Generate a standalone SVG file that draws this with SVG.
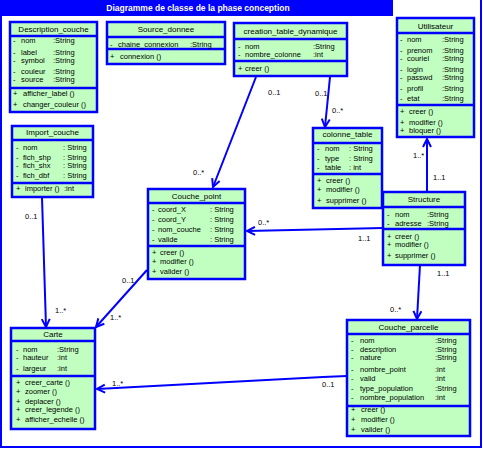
<svg xmlns="http://www.w3.org/2000/svg" width="483" height="449" viewBox="0 0 483 449">
<style>
text{font-family:"Liberation Sans",Arial,sans-serif;font-size:7.5px;fill:#000}
.box{fill:#c0ffc0;stroke:#0000ff;stroke-width:2.5}
.div{stroke:#0000ff;stroke-width:2.5}
.hd{text-anchor:middle;font-size:8px}
.lbl{font-size:7.5px}
.con{fill:none;stroke:#0000ff;stroke-width:2}
.title{fill:#fff;font-weight:bold;font-size:8.5px;text-anchor:middle}
</style>
<defs>
<marker id="arr" markerUnits="userSpaceOnUse" markerWidth="12" markerHeight="12" refX="9" refY="5" orient="auto">
<path d="M1,1 L9,5 L1,9" fill="none" stroke="#0000ff" stroke-width="2"/>
</marker>
</defs>
<rect width="483" height="449" fill="#fff"/>
<path d="M1,16 V447 H481 V0" fill="none" stroke="#0000ff" stroke-width="2"/>
<rect x="0" y="0" width="393" height="16" fill="#0000ff"/>
<text class="title" x="198" y="11">Diagramme de classe de la phase conception</text>

<g id="connectors">
<path class="con" d="M256,77 L213,187" marker-end="url(#arr)"/>
<path class="con" d="M330,77 L325,127" marker-end="url(#arr)"/>
<path class="con" d="M383,228 L247,231" marker-end="url(#arr)"/>
<path class="con" d="M427,192 L427,139" marker-end="url(#arr)"/>
<path class="con" d="M420,265 L417,319" marker-end="url(#arr)"/>
<path class="con" d="M347,376 L323,377 L97,389" marker-end="url(#arr)"/>
<path class="con" d="M42,197 L46,327" marker-end="url(#arr)"/>
<path class="con" d="M147,270 L96,327" marker-end="url(#arr)"/>
<text class="lbl" x="268" y="95">0..1</text>
<text class="lbl" x="193" y="175">0..*</text>
<text class="lbl" x="315" y="96">0..1</text>
<text class="lbl" x="332" y="113">0..*</text>
<text class="lbl" x="258" y="225">0..*</text>
<text class="lbl" x="358" y="241">1..1</text>
<text class="lbl" x="413" y="158">1..*</text>
<text class="lbl" x="433" y="180">1..1</text>
<text class="lbl" x="437" y="276">1..1</text>
<text class="lbl" x="390" y="312">0..*</text>
<text class="lbl" x="322" y="387">0..1</text>
<text class="lbl" x="112" y="386">1..*</text>
<text class="lbl" x="25" y="219">0..1</text>
<text class="lbl" x="55" y="313">1..*</text>
<text class="lbl" x="122" y="283">0..1</text>
<text class="lbl" x="110" y="320">1..*</text>
</g>

<g id="Description_couche">
<rect class="box" x="10" y="22" width="87" height="90"/>
<line class="div" x1="10" y1="36" x2="97" y2="36"/>
<line class="div" x1="10" y1="88" x2="97" y2="88"/>
<text class="hd" x="53.5" y="32">Description_couche</text>
<text x="13" y="43">-</text><text x="21" y="43">nom</text><text x="53" y="43">:String</text>
<text x="13" y="55">-</text><text x="21" y="55">label</text><text x="53" y="55">:String</text>
<text x="13" y="63">-</text><text x="21" y="63">symbol</text><text x="53" y="63">:String</text>
<text x="13" y="74">-</text><text x="21" y="74">couleur</text><text x="53" y="74">:String</text>
<text x="13" y="82">-</text><text x="21" y="82">source</text><text x="53" y="82">:String</text>
<text x="13" y="96">+</text><text x="23" y="96">afficher_label ()</text>
<text x="13" y="107">+</text><text x="23" y="107">changer_couleur ()</text>
</g>

<g id="Source_donnee">
<rect class="box" x="107" y="22" width="118" height="42"/>
<line class="div" x1="107" y1="37" x2="225" y2="37"/>
<line class="div" x1="107" y1="49" x2="225" y2="49"/>
<text class="hd" x="166" y="32">Source_donnee</text>
<text x="110" y="47">-</text><text x="118" y="47">chaine_connexion</text><text x="190" y="47">:String</text>
<text x="110" y="59">+</text><text x="120" y="59">connexion ()</text>
</g>

<g id="creation_table_dynamique">
<rect class="box" x="234" y="23" width="113" height="53"/>
<line class="div" x1="234" y1="39" x2="347" y2="39"/>
<line class="div" x1="234" y1="61" x2="347" y2="61"/>
<text class="hd" x="290.5" y="34">creation_table_dynamique</text>
<text x="238" y="49">-</text><text x="245" y="49">nom</text><text x="313" y="49">:String</text>
<text x="238" y="57">-</text><text x="245" y="57">nombre_colonne</text><text x="313" y="57">:int</text>
<text x="238" y="71">+</text><text x="245" y="71">creer ()</text>
</g>

<g id="Utilisateur">
<rect class="box" x="397" y="18" width="77" height="119"/>
<line class="div" x1="397" y1="33" x2="474" y2="33"/>
<line class="div" x1="397" y1="105" x2="474" y2="105"/>
<text class="hd" x="435.5" y="29">Utilisateur</text>
<text x="400" y="42">-</text><text x="407" y="42">nom</text><text x="442" y="42">:String</text>
<text x="400" y="53">-</text><text x="407" y="53">prenom</text><text x="442" y="53">:String</text>
<text x="400" y="61">-</text><text x="407" y="61">couriel</text><text x="442" y="61">:String</text>
<text x="400" y="72">-</text><text x="407" y="72">login</text><text x="442" y="72">:String</text>
<text x="400" y="80">-</text><text x="407" y="80">passwd</text><text x="442" y="80">:String</text>
<text x="400" y="91">-</text><text x="407" y="91">profil</text><text x="442" y="91">:String</text>
<text x="400" y="101">-</text><text x="407" y="101">etat</text><text x="442" y="101">:String</text>
<text x="400" y="114">+</text><text x="409" y="114">creer ()</text>
<text x="400" y="125">+</text><text x="409" y="125">modifier ()</text>
<text x="400" y="133">+</text><text x="409" y="133">bloquer ()</text>
</g>

<g id="Import_couche">
<rect class="box" x="12" y="126" width="81" height="71"/>
<line class="div" x1="12" y1="140" x2="93" y2="140"/>
<line class="div" x1="12" y1="183" x2="93" y2="183"/>
<text class="hd" x="52.5" y="135">Import_couche</text>
<text x="16" y="150">-</text><text x="23" y="150">nom</text><text x="63" y="150">: String</text>
<text x="16" y="160">-</text><text x="23" y="160">fich_shp</text><text x="63" y="160">: String</text>
<text x="16" y="168">-</text><text x="23" y="168">fich_shx</text><text x="63" y="168">: String</text>
<text x="16" y="178">-</text><text x="23" y="178">fich_dbf</text><text x="63" y="178">: String</text>
<text x="16" y="191">+</text><text x="25" y="191">importer ()</text><text x="64" y="191">:int</text>
</g>

<g id="Couche_point">
<rect class="box" x="148" y="189" width="97" height="90"/>
<line class="div" x1="148" y1="203" x2="245" y2="203"/>
<line class="div" x1="148" y1="246" x2="245" y2="246"/>
<text class="hd" x="196.5" y="199">Couche_point</text>
<text x="152" y="212">-</text><text x="158" y="212">coord_X</text><text x="210" y="212">: String</text>
<text x="152" y="222">-</text><text x="158" y="222">coord_Y</text><text x="210" y="222">: String</text>
<text x="152" y="232">-</text><text x="158" y="232">nom_couche</text><text x="210" y="232">: String</text>
<text x="152" y="242">-</text><text x="158" y="242">valide</text><text x="210" y="242">: String</text>
<text x="152" y="255">+</text><text x="160" y="255">creer ()</text>
<text x="152" y="264">+</text><text x="160" y="264">modifier ()</text>
<text x="152" y="274">+</text><text x="160" y="274">valider ()</text>
</g>

<g id="colonne_table">
<rect class="box" x="313" y="128" width="69" height="80"/>
<line class="div" x1="313" y1="143" x2="382" y2="143"/>
<line class="div" x1="313" y1="174" x2="382" y2="174"/>
<text class="hd" x="347.5" y="137">colonne_table</text>
<text x="317" y="151">-</text><text x="325" y="151">nom</text><text x="349" y="151">: String</text>
<text x="317" y="161">-</text><text x="325" y="161">type</text><text x="349" y="161">: String</text>
<text x="317" y="170">-</text><text x="325" y="170">table</text><text x="349" y="170">: int</text>
<text x="317" y="183">+</text><text x="326" y="183">creer ()</text>
<text x="317" y="192">+</text><text x="326" y="192">modifier ()</text>
<text x="317" y="203">+</text><text x="326" y="203">supprimer ()</text>
</g>

<g id="Structure">
<rect class="box" x="383" y="192" width="82" height="73"/>
<line class="div" x1="383" y1="207" x2="465" y2="207"/>
<line class="div" x1="383" y1="229" x2="465" y2="229"/>
<text class="hd" x="424" y="202">Structure</text>
<text x="387" y="217">-</text><text x="395" y="217">nom</text><text x="427" y="217">:String</text>
<text x="387" y="226">-</text><text x="395" y="226">adresse</text><text x="427" y="226">:String</text>
<text x="387" y="239">+</text><text x="395" y="239">creer ()</text>
<text x="387" y="247">+</text><text x="395" y="247">modifier ()</text>
<text x="387" y="258">+</text><text x="395" y="258">supprimer ()</text>
</g>

<g id="Carte">
<rect class="box" x="11" y="328" width="84" height="101"/>
<line class="div" x1="11" y1="341" x2="95" y2="341"/>
<line class="div" x1="11" y1="376" x2="95" y2="376"/>
<text class="hd" x="53" y="337">Carte</text>
<text x="16" y="352">-</text><text x="23" y="352">nom</text><text x="57" y="352">:String</text>
<text x="16" y="360">-</text><text x="23" y="360">hauteur</text><text x="57" y="360">:int</text>
<text x="16" y="371">-</text><text x="23" y="371">largeur</text><text x="57" y="371">:int</text>
<text x="16" y="385">+</text><text x="25" y="385">creer_carte ()</text>
<text x="16" y="394">+</text><text x="25" y="394">zoomer ()</text>
<text x="16" y="404">+</text><text x="25" y="404">deplacer ()</text>
<text x="16" y="412">+</text><text x="25" y="412">creer_legende ()</text>
<text x="16" y="422">+</text><text x="25" y="422">afficher_echelle ()</text>
</g>

<g id="Couche_parcelle">
<rect class="box" x="347" y="320" width="123" height="116"/>
<line class="div" x1="347" y1="334" x2="470" y2="334"/>
<line class="div" x1="347" y1="406" x2="470" y2="406"/>
<text class="hd" x="408.5" y="330">Couche_parcelle</text>
<text x="351" y="343">-</text><text x="360" y="343">nom</text><text x="435" y="343">:String</text>
<text x="351" y="352">-</text><text x="360" y="352">description</text><text x="435" y="352">:String</text>
<text x="351" y="360">-</text><text x="360" y="360">nature</text><text x="435" y="360">:String</text>
<text x="351" y="372">-</text><text x="360" y="372">nombre_point</text><text x="435" y="372">:int</text>
<text x="351" y="381">-</text><text x="360" y="381">valid</text><text x="435" y="381">:int</text>
<text x="351" y="391">-</text><text x="360" y="391">type_population</text><text x="435" y="391">:String</text>
<text x="351" y="400">-</text><text x="360" y="400">nombre_population</text><text x="435" y="400">:int</text>
<text x="351" y="412">+</text><text x="361" y="412">creer ()</text>
<text x="351" y="422">+</text><text x="361" y="422">modifier ()</text>
<text x="351" y="432">+</text><text x="361" y="432">valider ()</text>
</g>
</svg>
